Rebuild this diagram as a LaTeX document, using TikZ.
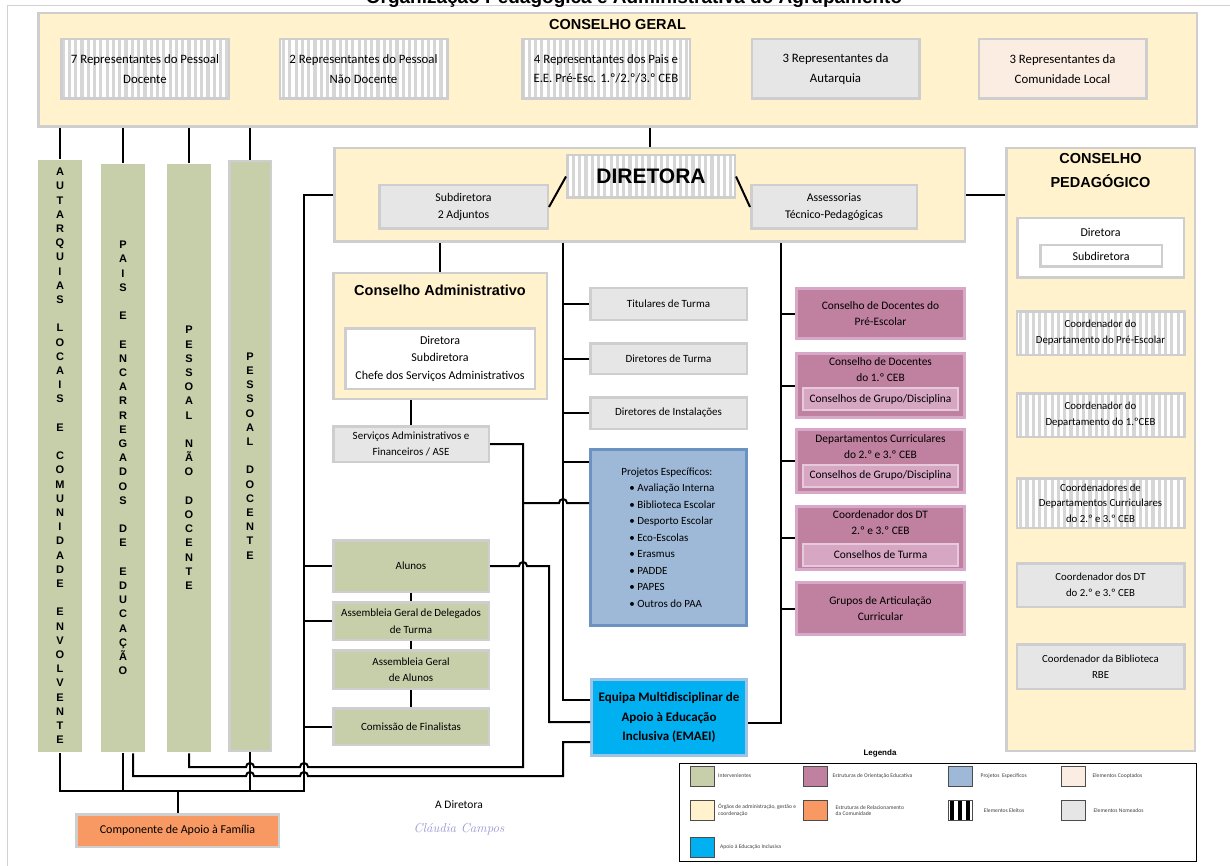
\documentclass[tikz,border=0pt]{standalone}
\usepackage{fontspec}
\newfontfamily\calib{Carlito}
\newfontfamily\arial{Liberation Sans}
\usetikzlibrary{positioning}
\usetikzlibrary{patterns.meta}

\definecolor{orgaoc}{RGB}{255,242,204}
\definecolor{nomeadoc}{RGB}{230,230,230}
\definecolor{cooptadoc}{RGB}{252,237,226}
\definecolor{intervc}{RGB}{199,206,170}
\definecolor{orientc}{RGB}{192,128,160}
\definecolor{orientrim}{RGB}{216,168,200}
\definecolor{orientlt}{RGB}{214,166,195}
\definecolor{projetoc}{RGB}{157,185,215}
\definecolor{projetodk}{RGB}{108,146,194}
\definecolor{apoioc}{RGB}{0,176,240}
\definecolor{apoiorim}{RGB}{157,195,230}
\definecolor{familiac}{RGB}{248,153,100}
\definecolor{rim}{RGB}{206,206,206}
\definecolor{stripec}{RGB}{214,214,214}
\definecolor{sigc}{RGB}{150,150,210}

% letters one under the other, '.' gives an empty line
\makeatletter
\newcommand{\vstack}[1]{%
  \gdef\vs@out{}\def\vs@sep{}%
  \@tfor\vs@c:=#1\do{%
    \expandafter\g@addto@macro\expandafter\vs@out\expandafter{\vs@sep}%
    \if.\vs@c\g@addto@macro\vs@out{\mbox{}}\else
      \expandafter\g@addto@macro\expandafter\vs@out\expandafter{\vs@c}\fi
    \def\vs@sep{\\}}%
  \vs@out}
\makeatother

\tikzstyle{box} = [draw=rim, line width=2.5pt, inner sep=0pt, align=center, font=\calib\fontsize{11}{16.5}\selectfont]
\tikzstyle{orgao} = [box, fill=orgaoc]
\tikzstyle{nomeado} = [box, fill=nomeadoc]
\tikzstyle{cooptado} = [box, fill=cooptadoc]
\tikzstyle{eleito} = [box, preaction={fill=white}, pattern={Lines[angle=90,distance=6.3pt,line width=3.2pt]}, pattern color=stripec]
\tikzstyle{interv} = [box, fill=intervc, draw=none]
\tikzstyle{orient} = [box, fill=orientc, draw=orientrim, line width=3pt]
\tikzstyle{subori} = [box, fill=orientlt, draw=orientlt!60!white, line width=2pt]
\tikzstyle{projeto} = [box, fill=projetoc, draw=projetodk, line width=3pt]
\tikzstyle{apoio} = [box, fill=apoioc, draw=apoiorim, line width=3pt]
\tikzstyle{relacao} = [box, fill=familiac]
\tikzstyle{rep} = [minimum width=167.5pt, minimum height=59.5pt, font=\calib\fontsize{12.8}{19.5}\selectfont]
\tikzstyle{cpx} = [minimum width=167.5pt, font=\calib\fontsize{10.8}{16}\selectfont]
\tikzstyle{head} = [font=\arial\bfseries\fontsize{14.5}{24}\selectfont, align=center]
\tikzstyle{vlet} = [align=center, inner sep=0pt, font=\arial\bfseries\fontsize{11}{14.2}\selectfont]
\tikzstyle{wire} = [draw=black, line width=2pt]
\tikzstyle{swatch} = [draw=black!70, line width=1pt, minimum width=24pt, minimum height=20pt, inner sep=0pt]
\tikzstyle{leglbl} = [font=\calib\fontsize{5.6}{6.8}\selectfont, align=left, text=black!75, inner sep=0pt]

\begin{document}
\begin{tikzpicture}[x=1pt, y=-1pt, font=\calib]
\useasboundingbox (0,0) rectangle (1230,866);

% page edge and title
\draw[gray!35, line width=1pt] (7,866) -- (7,5.5) -- (1230,5.5);
\node[anchor=base, font=\arial\bfseries\fontsize{19}{19}\selectfont] (title) at (634,3.5) {Organização Pedagógica e Administrativa do Agrupamento};

% Define nodes
% -- Conselho Geral
\node[orgao, minimum width=1158.5pt, minimum height=113.5pt] (cg)    at (617.5,70)  {};
\node[head]                                                  (cgt)   at (617.5,25)  {CONSELHO GERAL};
\node[eleito, rep]                                           (rdoc)  at (145,69)    {7 Representantes do Pessoal\\Docente};
\node[eleito, rep]                                           (rnd)   at (363.5,69)  {2 Representantes do Pessoal\\Não Docente};
\node[eleito, rep]                                           (rpais) at (606,69)    {4 Representantes dos Pais e\\E.E. Pré-Esc. 1.º/2.º/3.º CEB};
\node[nomeado, rep]                                          (raut)  at (835.5,69)  {3 Representantes da\\Autarquia};
\node[cooptado, rep]                                         (rcom)  at (1062.5,69) {3 Representantes da\\Comunidade Local};

% -- intervenientes
\node[interv, minimum width=44pt, minimum height=592pt]                (aut)  at (60,456)  {};
\node[interv, minimum width=44pt, minimum height=588pt]                (pais) at (123,458) {};
\node[interv, minimum width=44pt, minimum height=588pt]                (pnd)  at (189,458) {};
\node[interv, draw=rim, minimum width=41.5pt, minimum height=589.5pt] (pdoc) at (250,456) {};
\node[vlet] (autt)  at (aut)  {\vstack{AUTARQUIAS.LOCAIS.E.COMUNIDADE.ENVOLVENTE}};
\node[vlet] (paist) at (pais) {\vstack{PAIS.E.ENCARREGADOS.DE.EDUCAÇÃO}};
\node[vlet] (pndt)  at (pnd)  {\vstack{PESSOAL.NÃO.DOCENTE}};
\node[vlet] (pdoct) at (pdoc) {\vstack{PESSOAL.DOCENTE}};

% -- Diretora
\node[orgao, minimum width=630.5pt, minimum height=93.5pt]  (dirbox) at (649.5,195) {};
\node[eleito, minimum width=167.5pt, minimum height=42.5pt, font=\arial\bfseries\fontsize{21}{21}\selectfont] (dir) at (651,176.5) {DIRETORA};
\node[nomeado, minimum width=168.5pt, minimum height=43.5pt, font=\calib\fontsize{11.8}{17}\selectfont] (sub)  at (463.5,207) {Subdiretora\\2 Adjuntos};
\node[nomeado, minimum width=165.5pt, minimum height=43.5pt, font=\calib\fontsize{11.8}{17}\selectfont] (ases) at (834,207)   {Assessorias\\Técnico-Pedagógicas};

% -- Conselho Administrativo
\node[orgao, minimum width=213.5pt, minimum height=125.5pt]  (ca)   at (440,336)   {};
\node[head]                                                 (cat)  at (440,290)   {Conselho Administrativo};
\node[box, fill=white, minimum width=189.5pt, minimum height=60.5pt, font=\calib\fontsize{12}{17.5}\selectfont] (cai) at (440,358.5) {Diretora\\Subdiretora\\Chefe dos Serviços Administrativos};
\node[nomeado, minimum width=155.5pt, minimum height=35.5pt, font=\calib\fontsize{11}{16}\selectfont] (serv) at (411,444) {Serviços Administrativos e\\Financeiros / ASE};

% -- alunos
\node[interv, draw=rim, minimum width=155.5pt, minimum height=51.5pt]                 (alunos) at (411,566) {Alunos};
\node[interv, draw=rim, minimum width=155.5pt, minimum height=37.5pt, below=8pt of alunos] (deleg)  {Assembleia Geral de Delegados\\de Turma};
\node[interv, draw=rim, minimum width=155.5pt, minimum height=38.5pt, below=8pt of deleg]  (aga)    {Assembleia Geral\\de Alunos};
\node[interv, draw=rim, minimum width=155.5pt, minimum height=36.5pt, below=17pt of aga]   (fin)    {Comissão de Finalistas};

% -- coluna central
\node[nomeado, minimum width=156.5pt, minimum height=31.5pt]                      (tit)   at (668.5,304) {Titulares de Turma};
\node[nomeado, minimum width=156.5pt, minimum height=30.5pt, below=21pt of tit]   (dtur)  {Diretores de Turma};
\node[nomeado, minimum width=156.5pt, minimum height=31.5pt, below=21pt of dtur]  (dinst) {Diretores de Instalações};
\node[projeto, minimum width=156pt, minimum height=176pt, below=18pt of dinst, align=left] (proj)
  {Projetos Específicos:\\
   \hspace*{8pt}\textbullet\ Avaliação Interna\\
   \hspace*{8pt}\textbullet\ Biblioteca Escolar\\
   \hspace*{8pt}\textbullet\ Desporto Escolar\\
   \hspace*{8pt}\textbullet\ Eco-Escolas\\
   \hspace*{8pt}\textbullet\ Erasmus\\
   \hspace*{8pt}\textbullet\ PADDE\\
   \hspace*{8pt}\textbullet\ PAPES\\
   \hspace*{8pt}\textbullet\ Outros do PAA};
\node[apoio, minimum width=155pt, minimum height=76pt, font=\calib\bfseries\fontsize{13}{19.5}\selectfont] (emaei) at (669,717.5)
  {Equipa Multidisciplinar de\\Apoio à Educação\\Inclusiva (EMAEI)};

% -- estruturas de orientação educativa
\node[orient, minimum width=168pt, minimum height=50pt, font=\calib\fontsize{11.4}{16}\selectfont] (p1) at (880.5,313.5) {Conselho de Docentes do\\Pré-Escolar};
\node[orient, minimum width=168pt, minimum height=64pt, below=12pt of p1] (p2) {};
\node[orient, minimum width=168pt, minimum height=63pt, below=9pt of p2]  (p3) {};
\node[orient, minimum width=168pt, minimum height=63pt, below=11pt of p3] (p4) {};
\node[orient, minimum width=168pt, minimum height=52pt, below=10pt of p4, font=\calib\fontsize{11.4}{16}\selectfont] (p5) {Grupos de Articulação\\Curricular};
\node[font=\calib\fontsize{11.4}{16}\selectfont, align=center] (p2t) at ([yshift=-18pt]p2.north) {Conselho de Docentes\\do 1.º CEB};
\node[font=\calib\fontsize{11.4}{16}\selectfont, align=center] (p3t) at ([yshift=-19pt]p3.north) {Departamentos Curriculares\\do 2.º e 3.º CEB};
\node[font=\calib\fontsize{11.4}{16}\selectfont, align=center] (p4t) at ([yshift=-18pt]p4.north) {Coordenador dos DT\\2.º e 3.º CEB};
\node[subori, minimum width=155pt, minimum height=22pt, font=\calib\fontsize{11.4}{16}\selectfont] (p2g) at ([yshift=20pt]p2.south)   {Conselhos de Grupo/Disciplina};
\node[subori, minimum width=155pt, minimum height=22pt, font=\calib\fontsize{11.4}{16}\selectfont] (p3g) at ([yshift=18.5pt]p3.south) {Conselhos de Grupo/Disciplina};
\node[subori, minimum width=155pt, minimum height=22pt, font=\calib\fontsize{11.4}{16}\selectfont] (p4g) at ([yshift=16.5pt]p4.south) {Conselhos de Turma};

% -- Conselho Pedagógico
\node[orgao, minimum width=188.5pt, minimum height=602.5pt] (cp)   at (1100.5,449.5) {};
\node[head]                                                (cpt)  at (1100.5,171)   {CONSELHO\\PEDAGÓGICO};
\node[box, fill=white, minimum width=166.5pt, minimum height=59.5pt] (cpd) at (1100.5,248) {};
\node[font=\calib\fontsize{12}{12}\selectfont]             (cpdt) at (1100.5,232)   {Diretora};
\node[box, fill=white, minimum width=121.5pt, minimum height=21.5pt, font=\calib\fontsize{12}{12}\selectfont] (cps) at (1101,256) {Subdiretora};
\node[eleito, cpx, minimum height=43.5pt, below=31pt of cpd]  (cp1) {Coordenador do\\Departamento do Pré-Escolar};
\node[eleito, cpx, minimum height=43.5pt, below=36pt of cp1]  (cp2) {Coordenador do\\Departamento do 1.ºCEB};
\node[eleito, cpx, minimum height=49.5pt, below=39pt of cp2, font=\calib\fontsize{10.8}{15.5}\selectfont] (cp3) {Coordenadores de\\Departamentos Curriculares\\do 2.º e 3.º CEB};
\node[nomeado, cpx, minimum height=43.5pt, below=33pt of cp3] (cp4) {Coordenador dos DT\\do 2.º e 3.º CEB};
\node[nomeado, cpx, minimum height=44.5pt, below=35pt of cp4] (cp5) {Coordenador da Biblioteca\\RBE};

% -- apoio à família and signature
\node[relacao, minimum width=202.5pt, minimum height=32.5pt, font=\calib\fontsize{12}{12}\selectfont] (caf) at (177.5,830.5) {Componente de Apoio à Família};
\node[font=\calib\fontsize{11.5}{12}\selectfont] (adir) at (459,805) {A Diretora};
\node[font=\rmfamily\itshape\fontsize{13}{13}\selectfont, text=sigc] (sig) at (459,829) {Cláudia Campos};

% -- legenda
\node[font=\arial\bfseries\fontsize{8}{8}\selectfont] (legt) at (880,753) {Legenda};
\node[draw=black, line width=1pt, fill=white, minimum width=517pt, minimum height=98pt] (leg) at (938,812.5) {};
\node[swatch, fill=intervc]   (s1) at (702.5,776)   {};
\node[swatch, fill=orientc]   (s2) at (815,776)     {};
\node[swatch, fill=projetoc]  (s3) at (960,776)     {};
\node[swatch, fill=cooptadoc] (s4) at (1073,776)    {};
\node[swatch, fill=orgaoc]    (s5) at (702.5,810.5) {};
\node[swatch, fill=familiac]  (s6) at (815,810.5)   {};
\node[swatch, preaction={fill=white}, pattern={Lines[angle=90,distance=8pt,line width=3.5pt]}, pattern color=black] (s7) at (960,810.5) {};
\node[swatch, fill=nomeadoc]  (s8) at (1073,810.5)  {};
\node[swatch, fill=apoioc]    (s9) at (702.5,847.5) {};
\node[leglbl, right=3pt of s1]  (l1) {Intervenientes};
\node[leglbl, right=5pt of s2]  (l2) {Estruturas de Orientação Educativa};
\node[leglbl, right=8pt of s3]  (l3) {Projetos \ Específicos};
\node[leglbl, right=7pt of s4]  (l4) {Elementos Cooptados};
\node[leglbl, right=3pt of s5]  (l5) {Órgãos de administração, gestão e\\coordenação};
\node[leglbl, right=8pt of s6]  (l6) {Estruturas de Relacionamento\\da Comunidade};
\node[leglbl, right=10pt of s7] (l7) {Elementos Eleitos};
\node[leglbl, right=8pt of s8]  (l8) {Elementos Nomeados};
\node[leglbl, right=5pt of s9]  (l9) {Apoio à Educação Inclusiva};

% Edges
\foreach \c in {aut, pais, pnd, pdoc}
  \draw[wire] (\c.north) -- (\c.north |- cg.south);
\draw[wire] (dirbox.north) -- (dirbox.north |- cg.south);
\draw[wire] (dir.west) -- (sub.east);
\draw[wire] (dir.east) -- (ases.west);
\draw[wire] (ca.north) -- (ca.north |- dirbox.south);
\draw[wire] (serv.north) -- (serv.north |- ca.south);
\draw[wire] (dirbox.east) -- (dirbox.east -| cp.west);

% left bus down to the Componente de Apoio à Família
\coordinate (lbus) at (304,791);
\draw[wire] (dirbox.west) -| (lbus) -| (aut.south);
\draw[wire] (pais.south) -- (pais.south |- lbus);
\draw[wire] (pdoc.south) -- (pdoc.south |- lbus);
\draw[wire] (caf.north) -- (caf.north |- lbus);
\foreach \n in {alunos, deleg, fin}
  \draw[wire] (\n.west) -- (\n.west -| lbus);
\draw[wire] (alunos) -- (deleg);
\draw[wire] (deleg) -- (aga);
\draw[wire] (aga) -- (fin);

% centre spine
\coordinate (cx) at (563,700);
\coordinate (pj1) at ([yshift=-14pt]proj.north west);
\draw[wire] (cx |- dirbox.south) -- (cx) -- (cx -| emaei.west);
\foreach \n in {tit, dtur, dinst}
  \draw[wire] (\n.west) -- (\n.west -| cx);
\draw[wire] (pj1) -- (pj1 -| cx);

% right spine
\coordinate (rx) at (781,723);
\draw[wire] (rx |- dirbox.south) -- (rx) -- (rx -| emaei.east);
\foreach \n in {p1, p2, p3, p4, p5}
  \draw[wire] (\n.west) -- (\n.west -| rx);

% crossing lines (with hops)
\coordinate (sv) at (523,767);
\coordinate (pj2) at (523,503);
\draw[wire] (serv.east) -| (sv) -- (308,767) arc[start angle=0, end angle=-180, radius=4]
  -- (254,767) arc[start angle=0, end angle=-180, radius=4] -| (pnd.south);
\draw[wire] (pj2) -- (559,503) arc[start angle=180, end angle=360, radius=4] -- (pj2 -| proj.west);
\draw[wire] (alunos.east) -- (519,566) arc[start angle=180, end angle=360, radius=4]
  -- (549,566) |- ([yshift=-4.5pt]emaei.west);
\draw[wire] ([xshift=10pt]pais.south) -- (133,776) -- (246,776) arc[start angle=180, end angle=360, radius=4]
  -- (300,776) arc[start angle=180, end angle=360, radius=4] -- (563,776) |- ([yshift=-24.5pt]emaei.west);

\end{tikzpicture}
\end{document}
